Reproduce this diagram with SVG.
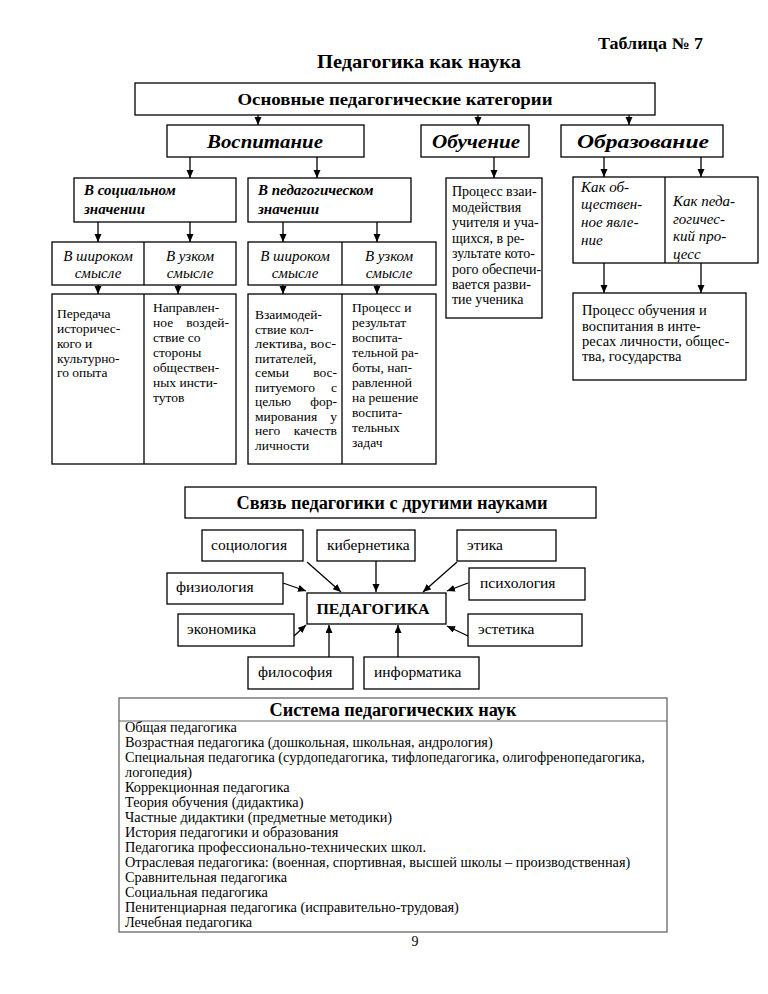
<svg xmlns="http://www.w3.org/2000/svg" width="768" height="994" viewBox="0 0 768 994" font-family="'Liberation Serif', 'DejaVu Serif', serif">
<defs>
<marker id="ah" markerUnits="userSpaceOnUse" markerWidth="8" markerHeight="8" refX="8" refY="3.5" orient="auto"><path d="M0,0 L8,3.5 L0,7 z" fill="#000"/></marker>
<style>
.b{fill:#fff;stroke:#000;stroke-width:1.3}
.ln{stroke:#000;stroke-width:1.3;fill:none}
.c{stroke:#000;stroke-width:1.3;fill:none;marker-end:url(#ah)}
.h{font-weight:bold}
.bi{font-weight:bold;font-style:italic}
.it{font-style:italic;font-size:15px}
.t{font-size:13.5px}
.t2{font-size:14px}
.s{font-size:15.5px}
.l{font-size:14.3px}
</style>
</defs>
<rect width="768" height="994" fill="#fff"/>
<text class="h" x="703" y="49" font-size="16" text-anchor="end" textLength="105" lengthAdjust="spacingAndGlyphs">Таблица № 7</text>
<text class="h" x="419" y="68" font-size="19" text-anchor="middle" textLength="204" lengthAdjust="spacingAndGlyphs">Педагогика как наука</text>

<g id="top">
<rect class="b" x="135" y="83" width="520" height="32"/>
<text class="h" x="395" y="105" font-size="17" text-anchor="middle" textLength="315" lengthAdjust="spacingAndGlyphs">Основные педагогические категории</text>
</g>
<g id="vospitanie">
<rect class="b" x="167" y="125" width="197" height="32"/>
<text class="bi" x="265" y="148" font-size="19" text-anchor="middle" textLength="116" lengthAdjust="spacingAndGlyphs">Воспитание</text>
</g>
<g id="obuchenie">
<rect class="b" x="421" y="125" width="108" height="32"/>
<text class="bi" x="476" y="148" font-size="19" text-anchor="middle" textLength="88" lengthAdjust="spacingAndGlyphs">Обучение</text>
</g>
<g id="obrazovanie">
<rect class="b" x="561" y="125" width="162" height="32"/>
<text class="bi" x="643" y="148" font-size="19" text-anchor="middle" textLength="132" lengthAdjust="spacingAndGlyphs">Образование</text>
</g>

<g id="social">
<rect class="b" x="74" y="178" width="162" height="44"/>
<text class="bi" font-size="15"><tspan x="84" y="195">В социальном</tspan><tspan x="84" y="214">значении</tspan></text>
</g>
<g id="pedag">
<rect class="b" x="248" y="178" width="163" height="44"/>
<text class="bi" font-size="15"><tspan x="258" y="195">В педагогическом</tspan><tspan x="258" y="214">значении</tspan></text>
</g>

<g id="row3-left">
<rect class="b" x="52" y="242" width="184" height="43"/>
<line class="ln" x1="144" y1="242" x2="144" y2="285"/>
<text class="it" text-anchor="middle"><tspan x="98" y="261">В широком</tspan><tspan x="98" y="278">смысле</tspan></text>
<text class="it" text-anchor="middle"><tspan x="190" y="261">В узком</tspan><tspan x="190" y="278">смысле</tspan></text>
</g>
<g id="row3-right">
<rect class="b" x="248" y="242" width="188" height="43"/>
<line class="ln" x1="342" y1="242" x2="342" y2="285"/>
<text class="it" text-anchor="middle"><tspan x="295" y="261">В широком</tspan><tspan x="295" y="278">смысле</tspan></text>
<text class="it" text-anchor="middle"><tspan x="389" y="261">В узком</tspan><tspan x="389" y="278">смысле</tspan></text>
</g>

<g id="row4-left">
<rect class="b" x="52" y="294" width="184" height="170"/>
<line class="ln" x1="144" y1="294" x2="144" y2="464"/>
<text class="t"><tspan x="57" y="318">Передача</tspan><tspan x="57" y="333">историчес-</tspan><tspan x="57" y="348">кого и</tspan><tspan x="57" y="363">культурно-</tspan><tspan x="57" y="377">го опыта</tspan></text>
<text class="t"><tspan x="153" y="312">Направлен-</tspan><tspan x="153" y="327">ное</tspan><tspan x="153" y="342">ствие со</tspan><tspan x="153" y="357">стороны</tspan><tspan x="153" y="372">обществен-</tspan><tspan x="153" y="387">ных инсти-</tspan><tspan x="153" y="402">тутов</tspan></text>
<text class="t" x="229" y="327" text-anchor="end">воздей-</text>
</g>
<g id="row4-right">
<rect class="b" x="248" y="294" width="188" height="170"/>
<line class="ln" x1="342" y1="294" x2="342" y2="464"/>
<text class="t"><tspan x="255" y="319">Взаимодей-</tspan><tspan x="255" y="333.5">ствие кол-</tspan><tspan x="255" y="348" textLength="81" lengthAdjust="spacingAndGlyphs">лектива, вос-</tspan><tspan x="255" y="362.5">питателей,</tspan><tspan x="255" y="377">семьи</tspan><tspan x="255" y="391.5">питуемого</tspan><tspan x="255" y="406">целью</tspan><tspan x="255" y="420.5">мирования</tspan><tspan x="255" y="435">него</tspan><tspan x="255" y="449.5">личности</tspan></text>
<text class="t" text-anchor="end"><tspan x="337" y="377">вос-</tspan><tspan x="337" y="391.5">с</tspan><tspan x="337" y="406">фор-</tspan><tspan x="337" y="420.5">у</tspan><tspan x="337" y="435">качеств</tspan></text>
<text class="t"><tspan x="352" y="312">Процесс и</tspan><tspan x="352" y="327">результат</tspan><tspan x="352" y="342">воспита-</tspan><tspan x="352" y="357">тельной ра-</tspan><tspan x="352" y="372">боты, нап-</tspan><tspan x="352" y="387">равленной</tspan><tspan x="352" y="402">на решение</tspan><tspan x="352" y="417">воспита-</tspan><tspan x="352" y="432">тельных</tspan><tspan x="352" y="447">задач</tspan></text>
</g>

<g id="obuch-text">
<rect class="b" x="446" y="178" width="96" height="140"/>
<text class="t2"><tspan x="452" y="196">Процесс  взаи-</tspan><tspan x="452" y="211.5">модействия</tspan><tspan x="452" y="227">учителя и уча-</tspan><tspan x="452" y="242.5">щихся, в ре-</tspan><tspan x="452" y="258">зультате  кото-</tspan><tspan x="452" y="273.5">рого  обеспечи-</tspan><tspan x="452" y="289">вается  разви-</tspan><tspan x="452" y="304">тие  ученика</tspan></text>
</g>
<g id="obraz-sub">
<rect class="b" x="573" y="177" width="185" height="86"/>
<line class="ln" x1="665" y1="177" x2="665" y2="263"/>
<text class="it"><tspan x="581" y="192">Как об-</tspan><tspan x="581" y="209">ществен-</tspan><tspan x="581" y="227">ное явле-</tspan><tspan x="581" y="245">ние</tspan></text>
<text class="it"><tspan x="673" y="206">Как педа-</tspan><tspan x="673" y="224">гогичес-</tspan><tspan x="673" y="241">кий про-</tspan><tspan x="673" y="259">цесс</tspan></text>
</g>
<g id="obraz-result">
<rect class="b" x="573" y="293" width="173" height="87"/>
<text font-size="14.5"><tspan x="582" y="315">Процесс обучения и</tspan><tspan x="582" y="331">воспитания в  инте-</tspan><tspan x="582" y="346">ресах личности, общес-</tspan><tspan x="582" y="361">тва, государства</tspan></text>
</g>

<g id="svyaz-title">
<rect class="b" x="185" y="487" width="411" height="31"/>
<text class="h" x="392" y="509" font-size="18" text-anchor="middle" textLength="311" lengthAdjust="spacingAndGlyphs">Связь педагогики с другими науками</text>
</g>
<g id="sociologia"><rect class="b" x="202" y="530" width="101" height="31"/><text class="s" x="211" y="550">социология</text></g>
<g id="kibernetika"><rect class="b" x="317" y="530" width="98" height="31"/><text class="s" x="327" y="550">кибернетика</text></g>
<g id="etika"><rect class="b" x="457" y="530" width="99" height="31"/><text class="s" x="467" y="550">этика</text></g>
<g id="fiziologia"><rect class="b" x="167" y="573" width="116" height="31"/><text class="s" x="176" y="592">физиология</text></g>
<g id="psihologia"><rect class="b" x="469" y="568" width="116" height="32"/><text class="s" x="480" y="588">психология</text></g>
<g id="pedagogika"><rect class="b" x="307" y="593" width="139" height="31"/><text class="h" x="373" y="614" font-size="15" text-anchor="middle" textLength="113" lengthAdjust="spacingAndGlyphs">ПЕДАГОГИКА</text></g>
<g id="ekonomika"><rect class="b" x="178" y="614" width="116" height="32"/><text class="s" x="187" y="634">экономика</text></g>
<g id="estetika"><rect class="b" x="468" y="614" width="114" height="32"/><text class="s" x="478" y="634">эстетика</text></g>
<g id="filosofia"><rect class="b" x="248" y="657" width="105" height="32"/><text class="s" x="258" y="677">философия</text></g>
<g id="informatika"><rect class="b" x="364" y="657" width="115" height="32"/><text class="s" x="374" y="677">информатика</text></g>

<g id="connectors">
<line class="c" x1="258" y1="115" x2="258" y2="125"/>
<line class="c" x1="478" y1="115" x2="478" y2="125"/>
<line class="c" x1="629" y1="115" x2="629" y2="125"/>
<line class="c" x1="190" y1="157" x2="190" y2="178"/>
<line class="c" x1="317" y1="157" x2="317" y2="178"/>
<line class="c" x1="98" y1="222" x2="98" y2="242"/>
<line class="c" x1="190" y1="222" x2="190" y2="242"/>
<line class="c" x1="283" y1="222" x2="283" y2="242"/>
<line class="c" x1="377" y1="222" x2="377" y2="242"/>
<line class="c" x1="98" y1="285" x2="98" y2="294"/>
<line class="c" x1="178" y1="285" x2="178" y2="294"/>
<line class="c" x1="283" y1="285" x2="283" y2="294"/>
<line class="c" x1="377" y1="285" x2="377" y2="294"/>
<line class="c" x1="494" y1="157" x2="494" y2="178"/>
<line class="c" x1="604" y1="157" x2="604" y2="177"/>
<line class="c" x1="701" y1="157" x2="701" y2="177"/>
<line class="c" x1="604" y1="263" x2="604" y2="293"/>
<line class="c" x1="701" y1="263" x2="701" y2="293"/>
<line class="c" x1="307" y1="562" x2="341" y2="592"/>
<line class="c" x1="376" y1="561" x2="376" y2="592"/>
<line class="c" x1="457" y1="562" x2="423" y2="592"/>
<line class="c" x1="283" y1="583" x2="306" y2="591"/>
<line class="c" x1="468" y1="583" x2="447" y2="591"/>
<line class="c" x1="294" y1="636" x2="306" y2="625"/>
<line class="c" x1="468" y1="636" x2="447" y2="626"/>
<line class="c" x1="329" y1="657" x2="329" y2="625"/>
<line class="c" x1="398" y1="657" x2="398" y2="625"/>
</g>

<g id="sistema">
<rect x="119" y="698" width="548" height="234" fill="#fff" stroke="#666" stroke-width="1.3"/>
<line x1="119" y1="721" x2="667" y2="721" stroke="#666" stroke-width="1.2"/>
<text class="h" x="393" y="716" font-size="18" text-anchor="middle" textLength="247" lengthAdjust="spacingAndGlyphs">Система педагогических наук</text>
<text class="l">
<tspan x="125" y="732">Общая педагогика</tspan>
<tspan x="125" y="747">Возрастная педагогика (дошкольная, школьная, андрология)</tspan>
<tspan x="125" y="762">Специальная педагогика (сурдопедагогика, тифлопедагогика, олигофренопедагогика,</tspan>
<tspan x="125" y="777">логопедия)</tspan>
<tspan x="125" y="792">Коррекционная педагогика</tspan>
<tspan x="125" y="807">Теория обучения (дидактика)</tspan>
<tspan x="125" y="822">Частные дидактики (предметные методики)</tspan>
<tspan x="125" y="837">История педагогики и образования</tspan>
<tspan x="125" y="852">Педагогика профессионально-технических школ.</tspan>
<tspan x="125" y="867">Отраслевая педагогика: (военная, спортивная, высшей школы – производственная)</tspan>
<tspan x="125" y="882">Сравнительная педагогика</tspan>
<tspan x="125" y="897">Социальная педагогика</tspan>
<tspan x="125" y="912">Пенитенциарная педагогика (исправительно-трудовая)</tspan>
<tspan x="125" y="927">Лечебная педагогика</tspan>
</text>
</g>
<text x="415" y="946" font-size="14" text-anchor="middle">9</text>
</svg>
